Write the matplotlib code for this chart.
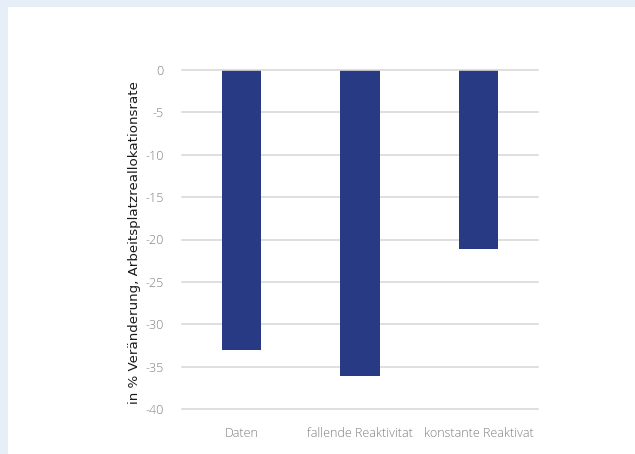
import matplotlib
matplotlib.use("Agg")
import matplotlib.pyplot as plt
from matplotlib.patches import Rectangle

categories = ["Daten", "fallende Reaktivitat", "konstante Reaktivat"]
values = [-33.0, -36.1, -21.1]
yticks = [0, -5, -10, -15, -20, -25, -30, -35, -40]
ylabel = "in % Veränderung, Arbeitsplatzreallokationsrate"

W, H = 635, 454
fig = plt.figure(figsize=(W / 100, H / 100), dpi=100)
fig.patch.set_facecolor("#e6eef8")
fig.patches.append(Rectangle((8 / W, 0), 1 - 8 / W, 1 - 7 / H, transform=fig.transFigure,
                             facecolor="white", edgecolor="none", zorder=-10))

ax = fig.add_axes([182 / W, 1 - 409 / H, (538 - 182) / W, (409 - 70) / H])
ax.set_facecolor("none")
x = list(range(len(categories)))
ax.bar(x, values, width=0.33, color="#283a84", zorder=2)
ax.set_xlim(-0.5, 2.5)
ax.set_ylim(-40, 0)
ax.set_yticks(yticks)
ax.set_yticklabels([str(t) for t in yticks])
ax.set_xticks(x)
ax.set_xticklabels(categories)
for t in yticks:
    ax.axhline(t, color="#d9d9d9", lw=1.2, zorder=3 if t == 0 else 1, clip_on=False)
for s in ax.spines.values():
    s.set_visible(False)
ax.tick_params(length=0, labelsize=9, labelcolor="#7f7f7f")
ax.tick_params(axis="y", pad=13)
ax.tick_params(axis="x", pad=13)
for lab in ax.get_xticklabels() + ax.get_yticklabels():
    lab.set_fontfamily("Open Sans")
    lab.set_fontweight("light")
ax.set_ylabel(ylabel, fontsize=9.6, color="#1a1a1a", fontfamily="DejaVu Sans")
ax.yaxis.set_label_coords((141 - 182) / 356, 0.49)

fig.savefig("out.png", dpi=100, facecolor=fig.get_facecolor())
